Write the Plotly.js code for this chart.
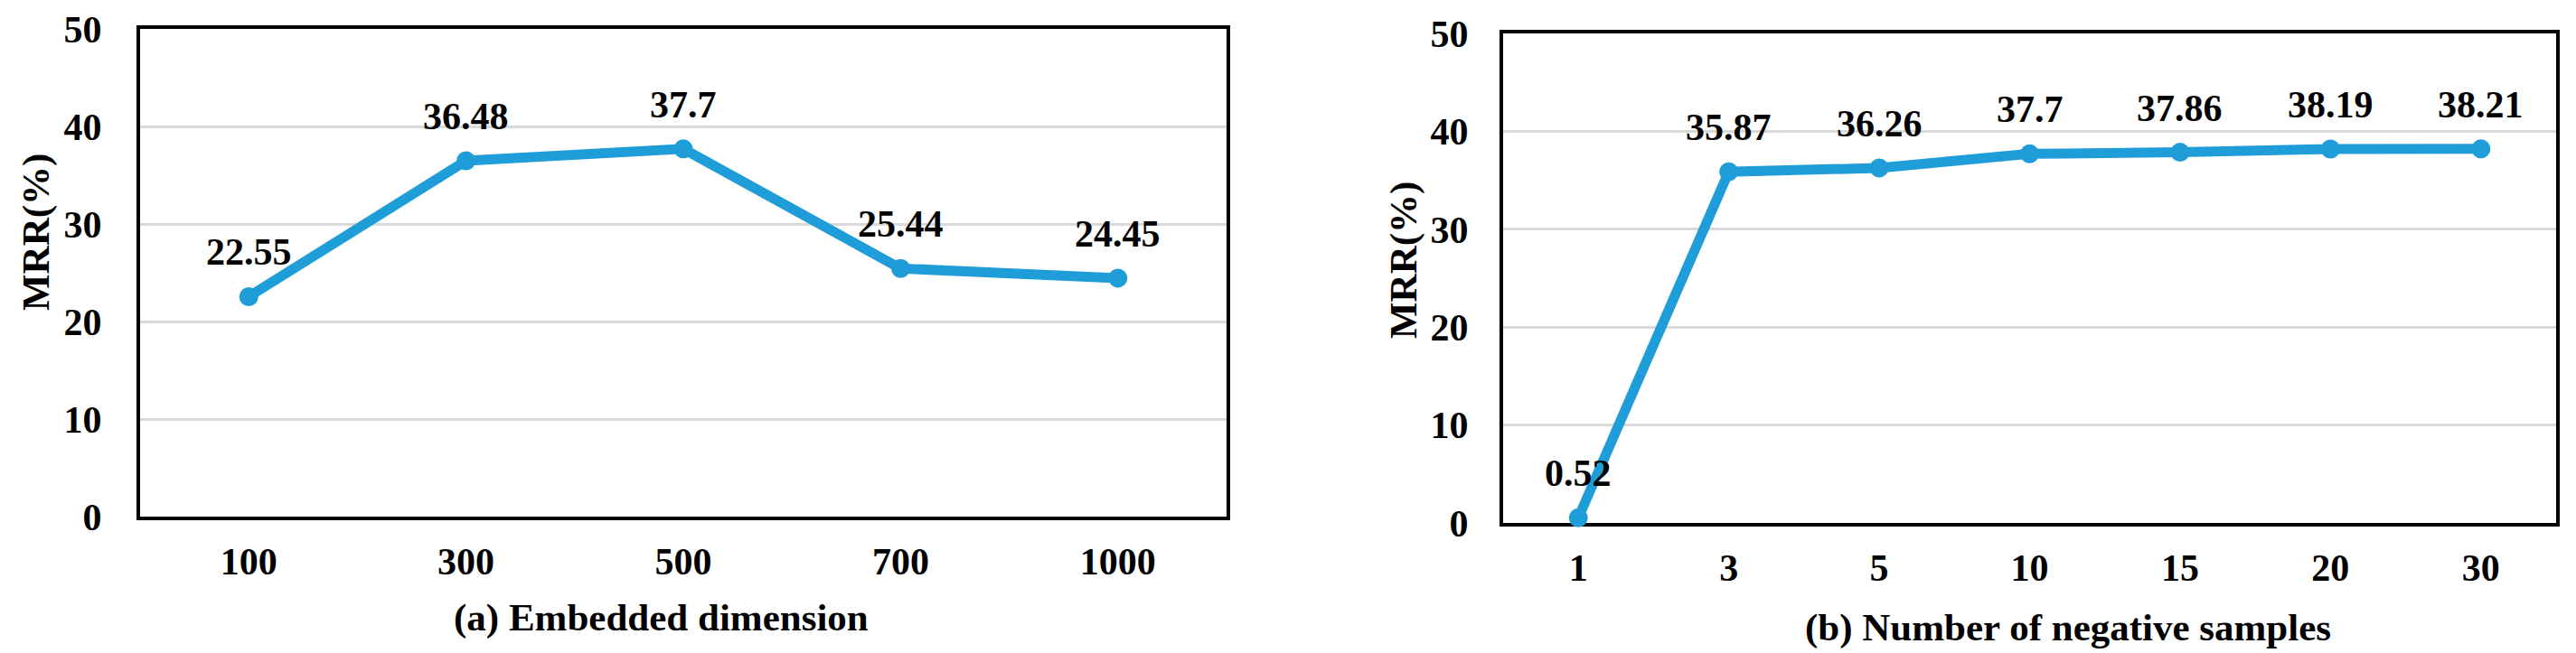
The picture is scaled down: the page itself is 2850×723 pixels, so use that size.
<!DOCTYPE html>
<html>
<head>
<meta charset="utf-8">
<script src="https://cdn.plot.ly/plotly-3.0.1.min.js"></script>
<style>
  html, body { margin: 0; padding: 0; background: #ffffff; }
  #chart { width: 2850px; height: 723px; }
</style>
</head>
<body>
<div id="chart"></div>
<script>
(function () {
    // (a) embedded dimension
    const dimCategories = ['100', '300', '500', '700', '1000'];
    const dimMRR = [22.55, 36.48, 37.7, 25.44, 24.45];

    // (b) number of negative samples
    const negCategories = ['1', '3', '5', '10', '15', '20', '30'];
    const negMRR = [0.52, 35.87, 36.26, 37.7, 37.86, 38.19, 38.21];

    const W = 2850, H = 723;
    const px = x => x / W;
    const py = y => 1 - y / H;

    const fontFamily = '"Liberation Serif", "Times New Roman", serif';
    const lineColor = '#1f9dd9';
    const tickFont = { family: fontFamily, size: 42, color: '#000000', weight: 'bold' };

    const lineTrace = (x, y, xa, ya) => ({
        type: 'scatter',
        mode: 'lines+markers',
        x: x,
        y: y,
        xaxis: xa,
        yaxis: ya,
        line: { color: lineColor, width: 11 },
        marker: { color: lineColor, size: 21 },
        cliponaxis: false,
        showlegend: false,
        hoverinfo: 'x+y'
    });

    // value labels sit above each point, placed by category index on the axis
    const valueLabels = (cats, y, xref, yref) => cats.map((c, i) => ({
        x: i,
        y: y[i],
        xref: xref,
        yref: yref,
        text: String(y[i]),
        showarrow: false,
        yshift: 49,
        font: { family: fontFamily, size: 42, color: '#000000', weight: 'bold' }
    }));

    const xAxisFor = (cats, domain, anchor) => ({
        type: 'category',
        categoryorder: 'array',
        categoryarray: cats,
        range: [-0.5, cats.length - 0.5],
        domain: domain,
        anchor: anchor,
        showgrid: false,
        zeroline: false,
        showline: true,
        linecolor: '#000000',
        linewidth: 4,
        mirror: true,
        ticks: 'outside',
        ticklen: 10,
        tickcolor: 'rgba(0,0,0,0)',
        tickfont: tickFont,
        layer: 'below traces',
        automargin: false,
        fixedrange: true
    });
    const yAxisFor = (domain, anchor, ticklen) => ({
        range: [0, 50],
        dtick: 10,
        domain: domain,
        anchor: anchor,
        showgrid: true,
        gridcolor: '#d9d9d9',
        gridwidth: 3,
        zeroline: false,
        showline: true,
        linecolor: '#000000',
        linewidth: 4,
        mirror: true,
        ticks: 'outside',
        ticklen: ticklen,
        tickcolor: 'rgba(0,0,0,0)',
        tickfont: tickFont,
        layer: 'below traces',
        automargin: false,
        fixedrange: true
    });

    const titleFont = { family: fontFamily, size: 43, color: '#000000', weight: 'bold' };
    const axisTitles = [
        { text: 'MRR(%)', x: px(40), y: py(257), textangle: -90 },
        { text: '(a) Embedded dimension', x: px(732), y: py(684), textangle: 0 },
        { text: 'MRR(%)', x: px(1553), y: py(288), textangle: -90 },
        { text: '(b) Number of negative samples', x: px(2288), y: py(695), textangle: 0 }
    ].map(t => Object.assign({
        xref: 'paper', yref: 'paper', showarrow: false,
        xanchor: 'center', yanchor: 'middle', font: titleFont
    }, t));

    const data = [
        lineTrace(dimCategories, dimMRR, 'x', 'y'),
        lineTrace(negCategories, negMRR, 'x2', 'y2')
    ];

    const layout = {
        width: W,
        height: H,
        margin: { l: 0, r: 0, t: 0, b: 0 },
        paper_bgcolor: '#ffffff',
        plot_bgcolor: '#ffffff',
        font: { family: fontFamily, color: '#000000' },
        xaxis: xAxisFor(dimCategories, [px(155), px(1357)], 'y'),
        yaxis: yAxisFor([py(572), py(32)], 'x', 30),
        xaxis2: xAxisFor(negCategories, [px(1663), px(2828)], 'y2'),
        yaxis2: yAxisFor([py(579), py(37)], 'x2', 26),
        annotations: valueLabels(dimCategories, dimMRR, 'x', 'y')
            .concat(valueLabels(negCategories, negMRR, 'x2', 'y2'))
            .concat(axisTitles)
    };

    Plotly.newPlot('chart', data, layout, { displayModeBar: false, staticPlot: true });
})();
</script>
</body>
</html>
